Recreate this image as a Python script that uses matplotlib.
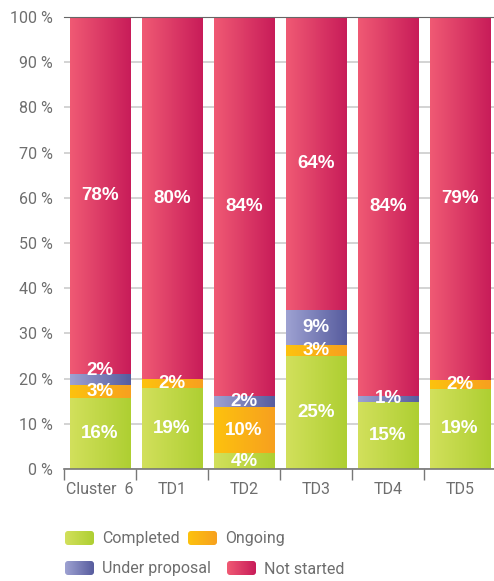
import numpy as np
import matplotlib
matplotlib.use('Agg')
import matplotlib.pyplot as plt
from matplotlib.patches import FancyBboxPatch
from matplotlib.colors import to_rgb

plt.rcParams['font.family'] = ['Roboto', 'DejaVu Sans']

# data (segment heights in %, printed labels)
categories = ['Cluster  6', 'TD1', 'TD2', 'TD3', 'TD4', 'TD5']
completed = [15.7, 17.9, 3.5, 25.0, 14.8, 17.7]
ongoing = [2.9, 2.0, 10.2, 2.4, 0.0, 2.0]
under_proposal = [2.5, 0.0, 2.5, 7.8, 1.4, 0.0]
not_started = [78.9, 80.1, 83.8, 64.8, 83.8, 80.3]
lbl_completed = ['16%', '19%', '4%', '25%', '15%', '19%']
lbl_ongoing = ['3%', '2%', '10%', '3%', '', '2%']
lbl_proposal = ['2%', '', '2%', '9%', '1%', '']
lbl_not_started = ['78%', '80%', '84%', '64%', '84%', '79%']
yticks = [0, 10, 20, 30, 40, 50, 60, 70, 80, 90, 100]

series = [
    ('Completed', completed, lbl_completed, ('#d2e05c', '#aecf32')),
    ('Ongoing', ongoing, lbl_ongoing, ('#fdc20e', '#f7a01f')),
    ('Under proposal', under_proposal, lbl_proposal, ('#9ea2d2', '#575c9e')),
    ('Not started', not_started, lbl_not_started, ('#f05a74', '#c81c59')),
]


def gradient(c1, c2, n=128):
    a, b = np.array(to_rgb(c1)), np.array(to_rgb(c2))
    t = np.linspace(0, 1, n)[:, None]
    return (a + (b - a) * t)[None, :, :]


fig = plt.figure(figsize=(4.94, 5.81), dpi=100)
ax = fig.add_axes([64 / 494, 1 - 469 / 581, 432 / 494, 452 / 581])

x = np.arange(len(categories))
bottom = np.zeros(len(categories))
label_pos = []  # (x, y, text) for each bar
for name, vals, labels, cols in series:
    bars = ax.bar(x, vals, width=0.84, bottom=bottom, color='none', zorder=2)
    img = gradient(*cols)
    for i, r in enumerate(bars):
        if vals[i] <= 0:
            continue
        x0, y0 = r.get_x(), r.get_y()
        ax.imshow(img, extent=[x0, x0 + r.get_width(), y0, y0 + r.get_height()],
                  aspect='auto', zorder=2, interpolation='bilinear')
    for i in range(len(categories)):
        if labels[i]:
            label_pos.append((i, bottom[i] + vals[i] / 2, labels[i]))
    bottom += np.array(vals)

# keep small labels from overlapping
min_gap = 4.6
last = {}
for i, y, t in label_pos:
    if i in last and y - last[i] < min_gap:
        y = last[i] + min_gap
    last[i] = y
    ax.text(i, y, t, ha='center', va='center', color='white', fontsize=13.5,
            fontweight='bold', family='Liberation Sans', zorder=4)

ax.set_xlim(-0.5, len(categories) - 0.5)
ax.set_ylim(0, 100)
ax.set_yticks(yticks)
ax.set_yticklabels([f'{v} %' for v in yticks])
ax.yaxis.grid(True, color='#cccccc', linewidth=1.2, zorder=0)
ax.set_axisbelow(True)
ax.tick_params(axis='y', length=0, labelsize=11.5, labelcolor='#6e6e6e', pad=8)

ax.set_xticks(x)
ax.set_xticklabels(categories)
ax.tick_params(axis='x', length=0, labelsize=11.5, labelcolor='#6e6e6e', pad=9)
ax.set_xticks(np.arange(-0.5, len(categories)), minor=True)
ax.tick_params(axis='x', which='minor', length=8, color='#777777', width=1)

for s in ['left', 'right']:
    ax.spines[s].set_visible(False)
ax.spines['bottom'].set_color('#777777')
ax.spines['top'].set_color('#666666')
ax.spines['bottom'].set_linewidth(1.2)

# legend drawn in figure pixel coordinates
lg = fig.add_axes([0, 0, 1, 1], zorder=5)
lg.axis('off')
legend_items = [
    (series[0], 65, 538),
    (series[1], 188, 538),
    (series[2], 65, 568),
    (series[3], 227, 568),
]
for (name, _, _, cols), px, py in legend_items:
    w, h = 29, 14
    box = FancyBboxPatch((px, py - h / 2), w, h, boxstyle='round,pad=0,rounding_size=3',
                         facecolor='none', edgecolor='none')
    lg.add_patch(box)
    im = lg.imshow(gradient(*cols), extent=[px, px + w, py + h / 2, py - h / 2],
                   aspect='auto', interpolation='bilinear')
    im.set_clip_path(box)
    lg.text(px + 37, py + 1, name, ha='left', va='center', fontsize=11.5, color='#6e6e6e')
lg.set_xlim(0, 494)
lg.set_ylim(581, 0)

fig.savefig('out.png', dpi=100)
